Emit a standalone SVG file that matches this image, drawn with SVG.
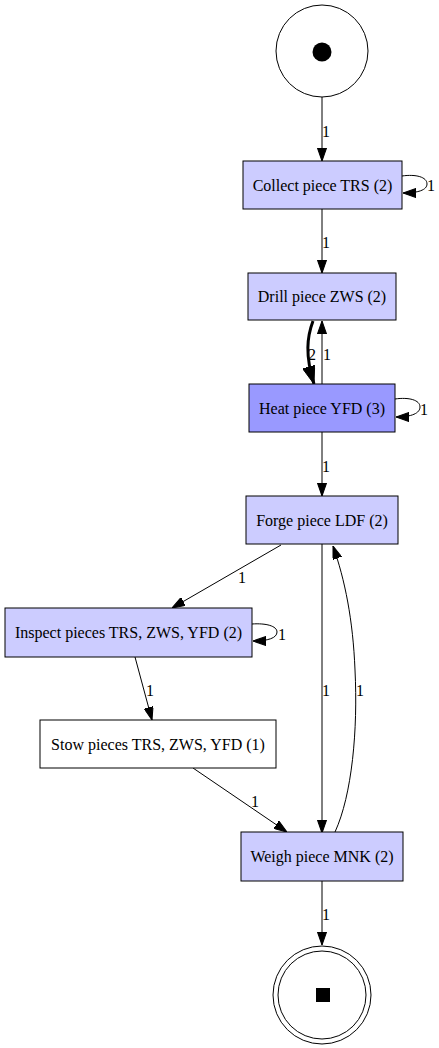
<svg xmlns="http://www.w3.org/2000/svg" width="439" height="1048" viewBox="0 0 439 1048">
  <style>
    text { font-family: 'Liberation Serif', 'Times New Roman', Times, serif; font-size: 16px; fill: #000000; text-anchor: middle; }
    .box { stroke: #000; stroke-width: 1; }
    .lite { fill: #ccccff; }
    .dark { fill: #9999ff; }
    .plain { fill: #ffffff; }
    .e { fill: none; stroke: #000; stroke-width: 1; marker-end: url(#arr); }
    .bold { fill: none; stroke: #000; stroke-width: 3; marker-end: url(#arrBold); }
  </style>
  <defs>
    <marker id="arr" viewBox="0 0 10 7" refX="10" refY="3.5" markerWidth="13" markerHeight="9.1" markerUnits="userSpaceOnUse" orient="auto">
      <path d="M0,0 L10,3.5 L0,7 Z" fill="#000" stroke="#000" stroke-width="0.8"/>
    </marker>
    <marker id="arrBold" viewBox="0 0 10 7" refX="10" refY="3.5" markerWidth="18" markerHeight="12.6" markerUnits="userSpaceOnUse" orient="auto">
      <path d="M0,0 L10,3.5 L0,7 Z" fill="#000" stroke="#000" stroke-width="0.5"/>
    </marker>
  </defs>
  <rect width="439" height="1048" fill="#ffffff"/>

  <g id="connectors">
    <path class="e" d="M322,97 L322,161"/>
    <text x="326" y="137">1</text>

    <path class="e" d="M402,176 C416,174 427,177 427,184 C427,190 418,193 403,193"/>
    <text x="431" y="191">1</text>

    <path class="e" d="M322,209 L322,273"/>
    <text x="326" y="248">1</text>

    <path class="bold" d="M313,321 C307,337 305,355 314,384"/>
    <text x="312" y="360">2</text>

    <path class="e" d="M322,384 L322,321"/>
    <text x="327" y="360">1</text>

    <path class="e" d="M395,399 C409,397 420,400 420,407 C420,413 412,417 396,417"/>
    <text x="424" y="415">1</text>

    <path class="e" d="M322,432 L322,496"/>
    <text x="326" y="472">1</text>

    <path class="e" d="M281,545 L172,608"/>
    <text x="242" y="583">1</text>

    <path class="e" d="M252,624 C266,623 277,626 277,632 C277,638 268,641 253,641"/>
    <text x="282" y="640">1</text>

    <path class="e" d="M135,657 L152,720"/>
    <text x="150" y="696">1</text>

    <path class="e" d="M322,544 L322,833"/>
    <text x="326" y="696">1</text>

    <path class="e" d="M335,832 C352,795 358,730 355,670 C353,620 345,580 333,546"/>
    <text x="360" y="696">1</text>

    <path class="e" d="M193,768 L287,832"/>
    <text x="255" y="807">1</text>

    <path class="e" d="M322,881 L322,945"/>
    <text x="326" y="920">1</text>
  </g>

  <g id="start">
    <circle cx="322" cy="51" r="46" fill="#ffffff" stroke="#000" stroke-width="1"/>
    <circle cx="322" cy="52" r="9.5" fill="#000"/>
  </g>

  <g id="collect">
    <rect class="box lite" x="243" y="161" width="159" height="48"/>
    <text x="322.5" y="191">Collect piece TRS (2)</text>
  </g>

  <g id="drill">
    <rect class="box lite" x="248" y="273" width="148" height="47"/>
    <text x="322" y="302">Drill piece ZWS (2)</text>
  </g>

  <g id="heat">
    <rect class="box dark" x="249" y="384" width="146" height="48"/>
    <text x="322" y="414">Heat piece YFD (3)</text>
  </g>

  <g id="forge">
    <rect class="box lite" x="246" y="496" width="152" height="48"/>
    <text x="322" y="526">Forge piece LDF (2)</text>
  </g>

  <g id="inspect">
    <rect class="box lite" x="5" y="608" width="247" height="49"/>
    <text x="128.5" y="638">Inspect pieces TRS, ZWS, YFD (2)</text>
  </g>

  <g id="stow">
    <rect class="box plain" x="40" y="720" width="236" height="48"/>
    <text x="158" y="750">Stow pieces TRS, ZWS, YFD (1)</text>
  </g>

  <g id="weigh">
    <rect class="box lite" x="241" y="832" width="162" height="49"/>
    <text x="322" y="862">Weigh piece MNK (2)</text>
  </g>

  <g id="end">
    <circle cx="322" cy="995" r="49" fill="#ffffff" stroke="#000" stroke-width="1"/>
    <circle cx="322" cy="995" r="44" fill="none" stroke="#000" stroke-width="1"/>
    <rect x="316" y="988" width="14" height="14" fill="#000"/>
  </g>
</svg>
